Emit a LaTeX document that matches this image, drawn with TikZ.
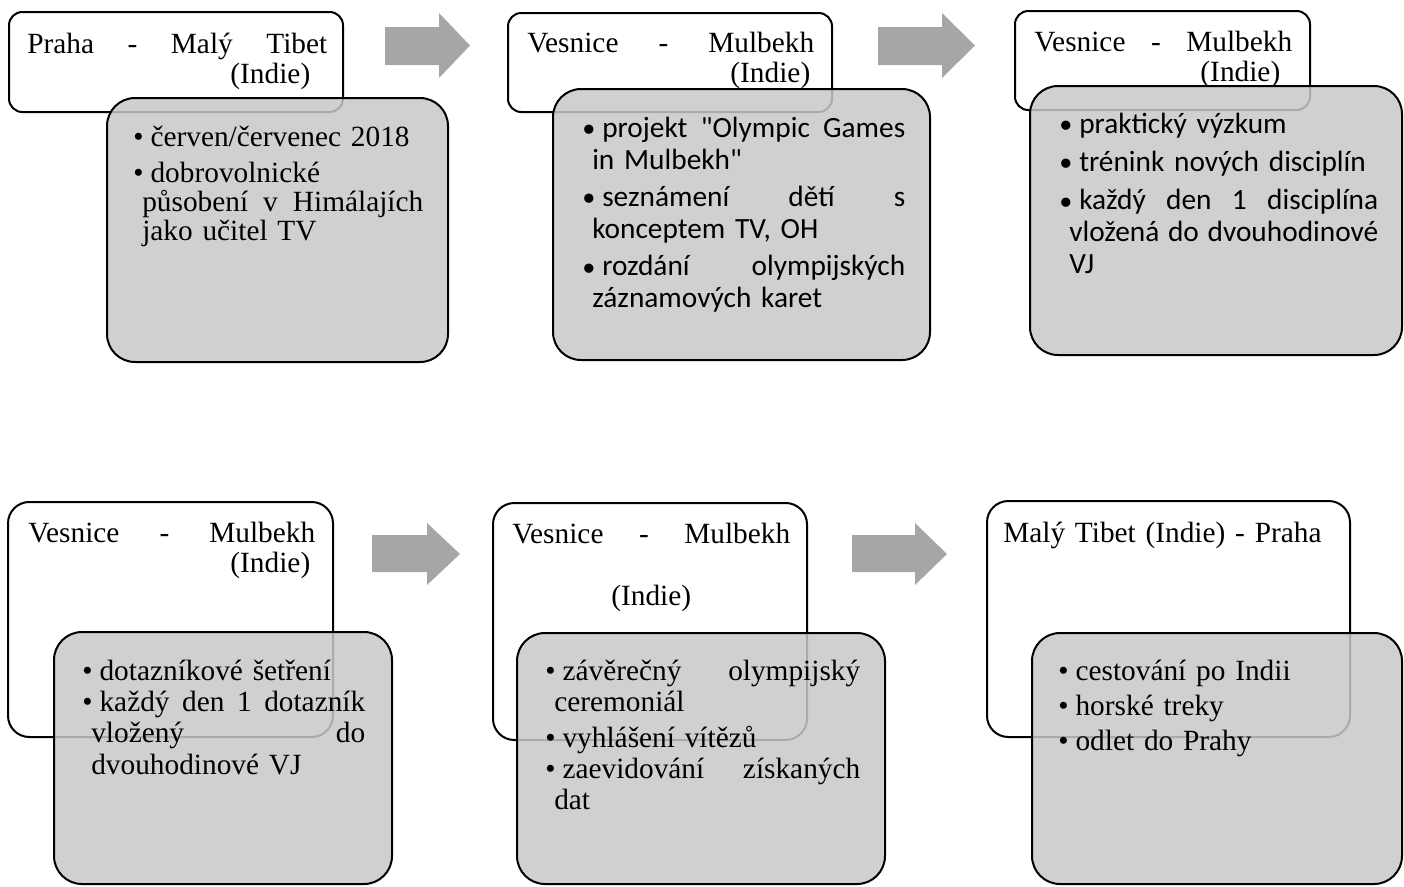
\documentclass[tikz,border=0pt]{standalone}
\usepackage{fontspec}
\setmainfont{Liberation Serif}
\newfontfamily\calibri{Carlito}
\definecolor{boxgrey}{RGB}{200,200,200}
\definecolor{arrowgrey}{RGB}{166,166,166}
\newcommand{\bitem}{\makebox[13pt][l]{\textbullet}}
\newcommand{\sitem}{\makebox[15pt][l]{\raisebox{-4pt}{\rmfamily\fontsize{29}{24}\selectfont\textbullet}}}
\newcommand{\hang}{\hspace*{6.75pt}}
\newcommand{\shang}{\hspace*{7.5pt}}
\newcommand{\jline}[1]{\leavevmode\hbox to \linewidth{#1}}
\tikzset{
  whitebox/.style={draw=black, line width=1.5pt, fill=white},
  greybox/.style={draw=black, line width=1.5pt, fill=boxgrey, fill opacity=0.85, rounded corners=21pt},
  blockarrow/.style={fill=arrowgrey, draw=none},
  txt/.style={inner sep=0pt, anchor=base west, align=left},
  serif/.style={txt, font=\fontsize{22}{22.5}\selectfont},
  sans/.style={txt, font=\calibri\fontsize{22}{24}\selectfont}
}
\begin{document}
\begin{tikzpicture}[x=0.75pt, y=-0.75pt]
  \useasboundingbox (0,0) rectangle (1404,886);

  \draw[whitebox, rounded corners=10pt] (9,12) rectangle (343,112);
  \node[serif, text width=225pt] (title1) at (27,53)
    {\jline{Praha\hfill-\hfill Malý\hfill Tibet}\\
     \jline{\hfill(Indie)\hspace*{12.75pt}}};
  \draw[greybox] (107,98) rectangle (448,362);
  \node[serif, text width=217.5pt, font=\fontsize{22}{21.75}\selectfont] (list1) at (133,146)
    {\bitem červen/červenec 2018\\[5.25pt]
     \bitem dobrovolnické\\
     \jline{\hang působení\hfill v\hfill Himálajích}\\
     \hang jako učitel TV};

  \fill[blockarrow] (385,27) -- (439,27) -- (439,13) -- (470,45.5) -- (439,78) -- (439,65) -- (385,65) -- cycle;

  \draw[whitebox, rounded corners=10pt] (508,13) rectangle (832,112);
  \node[serif, text width=215.25pt] (title2) at (527,52)
    {\jline{Vesnice\hfill-\hfill Mulbekh}\\
     \jline{\hfill(Indie)\hspace*{3pt}}};
  \draw[greybox] (553,89) rectangle (930,360);
  \node[sans, text width=242.25pt] (list2) at (582,137)
    {\jline{\sitem projekt\hfill"Olympic\hfill Games}\\
     \shang in Mulbekh"\\[4pt]
     \jline{\sitem seznámení\hfill dětí\hfill s}\\
     \shang konceptem TV, OH\\[4pt]
     \jline{\sitem rozdání\hfill olympijských}\\
     \shang záznamových karet};

  \fill[blockarrow] (878,27) -- (942,27) -- (942,13) -- (975,45.5) -- (942,78) -- (942,65) -- (878,65) -- cycle;

  \draw[whitebox, rounded corners=10pt] (1015,11) rectangle (1310,110);
  \node[serif, text width=193.5pt] (title3) at (1034,51)
    {\jline{Vesnice\hfill-\hfill Mulbekh}\\
     \jline{\hfill(Indie)\hspace*{9pt}}};
  \draw[greybox] (1030,86) rectangle (1402,355);
  \node[sans, text width=239.25pt] (list3) at (1059,133)
    {\sitem praktický výzkum\\[4.5pt]
     \sitem trénink nových disciplín\\[5pt]
     \jline{\sitem každý\hfill den\hfill 1\hfill disciplína}\\
     \jline{\shang vložená\hfill do\hfill dvouhodinové}\\
     \shang VJ};

  \draw[whitebox, rounded corners=16pt] (8,502) rectangle (333,737);
  \node[serif, text width=215.25pt] (title4) at (28,542)
    {\jline{Vesnice\hfill-\hfill Mulbekh}\\
     \jline{\hfill(Indie)\hspace*{3.75pt}}};
  \draw[greybox] (54,632) rectangle (392,884);
  \node[serif, text width=212.25pt, font=\fontsize{22}{23.5}\selectfont] (list4) at (82,680)
    {\bitem dotazníkové šetření\\
     \jline{\bitem každý\hfill den\hfill 1\hfill dotazník}\\
     \jline{\hang vložený\hfill do}\\
     \hang dvouhodinové VJ};

  \fill[blockarrow] (372,535) -- (427,535) -- (427,523) -- (460,554) -- (427,585) -- (427,572) -- (372,572) -- cycle;

  \draw[whitebox, rounded corners=16pt] (493,503) rectangle (807,740);
  \node[serif, text width=208.5pt] (title5) at (512,543)
    {\jline{Vesnice\hfill-\hfill Mulbekh}\\[24pt]
     \jline{\hfill(Indie)\hfill}};
  \draw[greybox] (517,633) rectangle (885,884);
  \node[serif, text width=236.25pt, font=\fontsize{22}{23.25}\selectfont] (list5) at (545,680)
    {\jline{\bitem závěrečný\hfill olympijský}\\
     \hang ceremoniál\\[4pt]
     \bitem vyhlášení vítězů\\
     \jline{\bitem zaevidování\hfill získaných}\\
     \hang dat};

  \fill[blockarrow] (852,535) -- (915,535) -- (915,523) -- (947,554) -- (915,585) -- (915,572) -- (852,572) -- cycle;

  \draw[whitebox, rounded corners=16pt] (987,501) rectangle (1350,737);
  \node[serif, text width=240pt] (title6) at (1003,542) {Malý Tibet (Indie) - Praha};
  \draw[greybox] (1032,633) rectangle (1402,884);
  \node[serif, text width=240pt, font=\fontsize{22}{26.25}\selectfont] (list6) at (1058,680)
    {\bitem cestování po Indii\\
     \bitem horské treky\\
     \bitem odlet do Prahy};
\end{tikzpicture}
\end{document}
